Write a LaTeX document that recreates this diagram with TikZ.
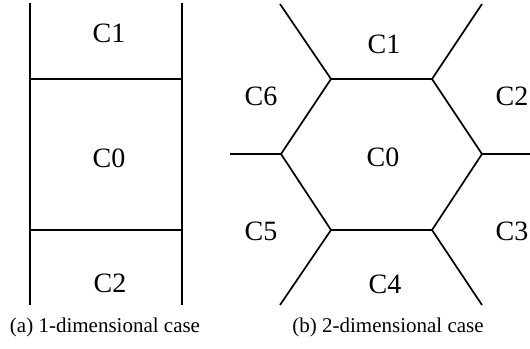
\documentclass[tikz,border=0pt]{standalone}
\usepackage{fontspec}
\setmainfont{Liberation Serif}

\begin{document}
\begin{tikzpicture}[x=1pt,y=-1pt,
  wall/.style={line width=1.7pt,black},
  cell/.style={font=\fontsize{28}{30}\selectfont},
  capt/.style={font=\fontsize{21}{23}\selectfont}]
  \useasboundingbox (0,0) rectangle (530,348);

  % (a) 1-dimensional case
  \coordinate (lt) at (30,3);   \coordinate (rt) at (182,3);
  \coordinate (l1) at (30,79);  \coordinate (r1) at (182,79);
  \coordinate (l2) at (30,230); \coordinate (r2) at (182,230);
  \coordinate (lb) at (30,305); \coordinate (rb) at (182,305);
  \draw[wall] (lt) -- (lb);
  \draw[wall] (rt) -- (rb);
  \draw[wall] (l1) -- (r1);
  \draw[wall] (l2) -- (r2);
  \node[cell] (a-c1) at (109,33)  {C1};
  \node[cell] (a-c0) at (109,158) {C0};
  \node[cell] (a-c2) at (110,283) {C2};
  \node[capt] (a-cap) at (105,327) {(a) 1-dimensional case};

  % (b) 2-dimensional case: hexagon
  \coordinate (h1) at (331,79);  \coordinate (h2) at (432,79);
  \coordinate (h3) at (482,154); \coordinate (h4) at (432,230);
  \coordinate (h5) at (331,230); \coordinate (h6) at (281,154);
  \draw[wall] (h1) -- (h2) -- (h3) -- (h4) -- (h5) -- (h6) -- cycle;

  % outer borders
  \coordinate (o1) at (280,4);   \coordinate (o2) at (482,4);
  \coordinate (o3) at (530,154); \coordinate (o4) at (482,305);
  \coordinate (o5) at (280,305); \coordinate (o6) at (230,154);
  \draw[wall] (h1) -- (o1);
  \draw[wall] (h2) -- (o2);
  \draw[wall] (h3) -- (o3);
  \draw[wall] (h4) -- (o4);
  \draw[wall] (h5) -- (o5);
  \draw[wall] (h6) -- (o6);

  \node[cell] (b-c0) at (383,157) {C0};
  \node[cell] (b-c1) at (384,44)  {C1};
  \node[cell] (b-c2) at (512,96)  {C2};
  \node[cell] (b-c3) at (512,231) {C3};
  \node[cell] (b-c4) at (385,284) {C4};
  \node[cell] (b-c5) at (261,231) {C5};
  \node[cell] (b-c6) at (261,96)  {C6};
  \node[capt] (b-cap) at (388,327) {(b) 2-dimensional case};
\end{tikzpicture}
\end{document}
